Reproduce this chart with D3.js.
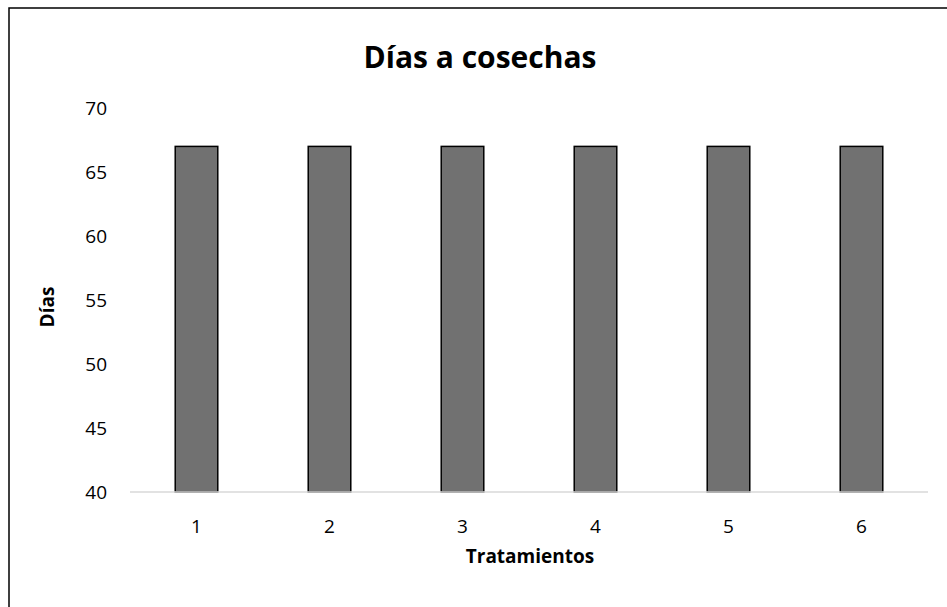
<!DOCTYPE html>
<html>
<head>
<meta charset="utf-8">
<script src="https://cdn.jsdelivr.net/npm/d3@7"></script>
<style>
  body { margin: 0; background: #fff; }
  text { font-family: "Open Sans", "Noto Sans", sans-serif; }
</style>
</head>
<body>
<div id="chart"></div>
<script>
// Data
const tratamientos = ["1", "2", "3", "4", "5", "6"];
const dias = [67, 67, 67, 67, 67, 67];
const yTicks = [40, 45, 50, 55, 60, 65, 70];

const W = 947, H = 607;
const margin = { top: 108, right: 19, bottom: 115, left: 130 };
const width = W - margin.left - margin.right;
const height = H - margin.top - margin.bottom;

const svg = d3.select("#chart").append("svg")
  .attr("width", W)
  .attr("height", H);

// outer border (runs off the right and bottom edges)
svg.append("rect")
  .attr("x", 9).attr("y", 8)
  .attr("width", W + 20).attr("height", H + 20)
  .attr("fill", "none")
  .attr("stroke", "#000")
  .attr("stroke-width", 1.5);

const g = svg.append("g")
  .attr("transform", "translate(" + margin.left + "," + margin.top + ")");

const x = d3.scaleBand().domain(tratamientos).range([0, width]).paddingInner(0.68).paddingOuter(0.34);
const y = d3.scaleLinear().domain([40, 70]).range([height, 0]);

// y tick labels (no axis line)
g.selectAll(".ytick")
  .data(yTicks)
  .enter().append("text")
  .attr("x", -23)
  .attr("y", d => y(d))
  .attr("dy", "0.36em")
  .attr("text-anchor", "end")
  .style("font-size", "19px")
  .attr("fill", "#000")
  .text(d => d);

// bars
g.selectAll(".bar")
  .data(dias)
  .enter().append("rect")
  .attr("x", (d, i) => x(tratamientos[i]))
  .attr("y", d => y(d))
  .attr("width", x.bandwidth())
  .attr("height", d => y(40) - y(d))
  .attr("fill", "#717171")
  .attr("stroke", "#000")
  .attr("stroke-width", 1.5);

// x axis line
g.append("line")
  .attr("x1", 0).attr("x2", width)
  .attr("y1", height).attr("y2", height)
  .attr("stroke", "#d9d9d9")
  .attr("stroke-width", 1.5);

// x tick labels
g.selectAll(".xtick")
  .data(tratamientos)
  .enter().append("text")
  .attr("x", d => x(d) + x.bandwidth() / 2)
  .attr("y", height + 41)
  .attr("text-anchor", "middle")
  .style("font-size", "19px")
  .attr("fill", "#000")
  .text(d => d);

// title
svg.append("text")
  .attr("x", 480)
  .attr("y", 68)
  .attr("text-anchor", "middle")
  .style("font-size", "30px")
  .style("font-weight", "bold")
  .text("Días a cosechas");

// x label
svg.append("text")
  .attr("x", 530)
  .attr("y", 563)
  .attr("text-anchor", "middle")
  .style("font-size", "19px")
  .style("font-weight", "bold")
  .text("Tratamientos");

// y label
svg.append("text")
  .attr("transform", "translate(54,307) rotate(-90)")
  .attr("text-anchor", "middle")
  .style("font-size", "19px")
  .style("font-weight", "bold")
  .text("Días");
</script>
</body>
</html>
